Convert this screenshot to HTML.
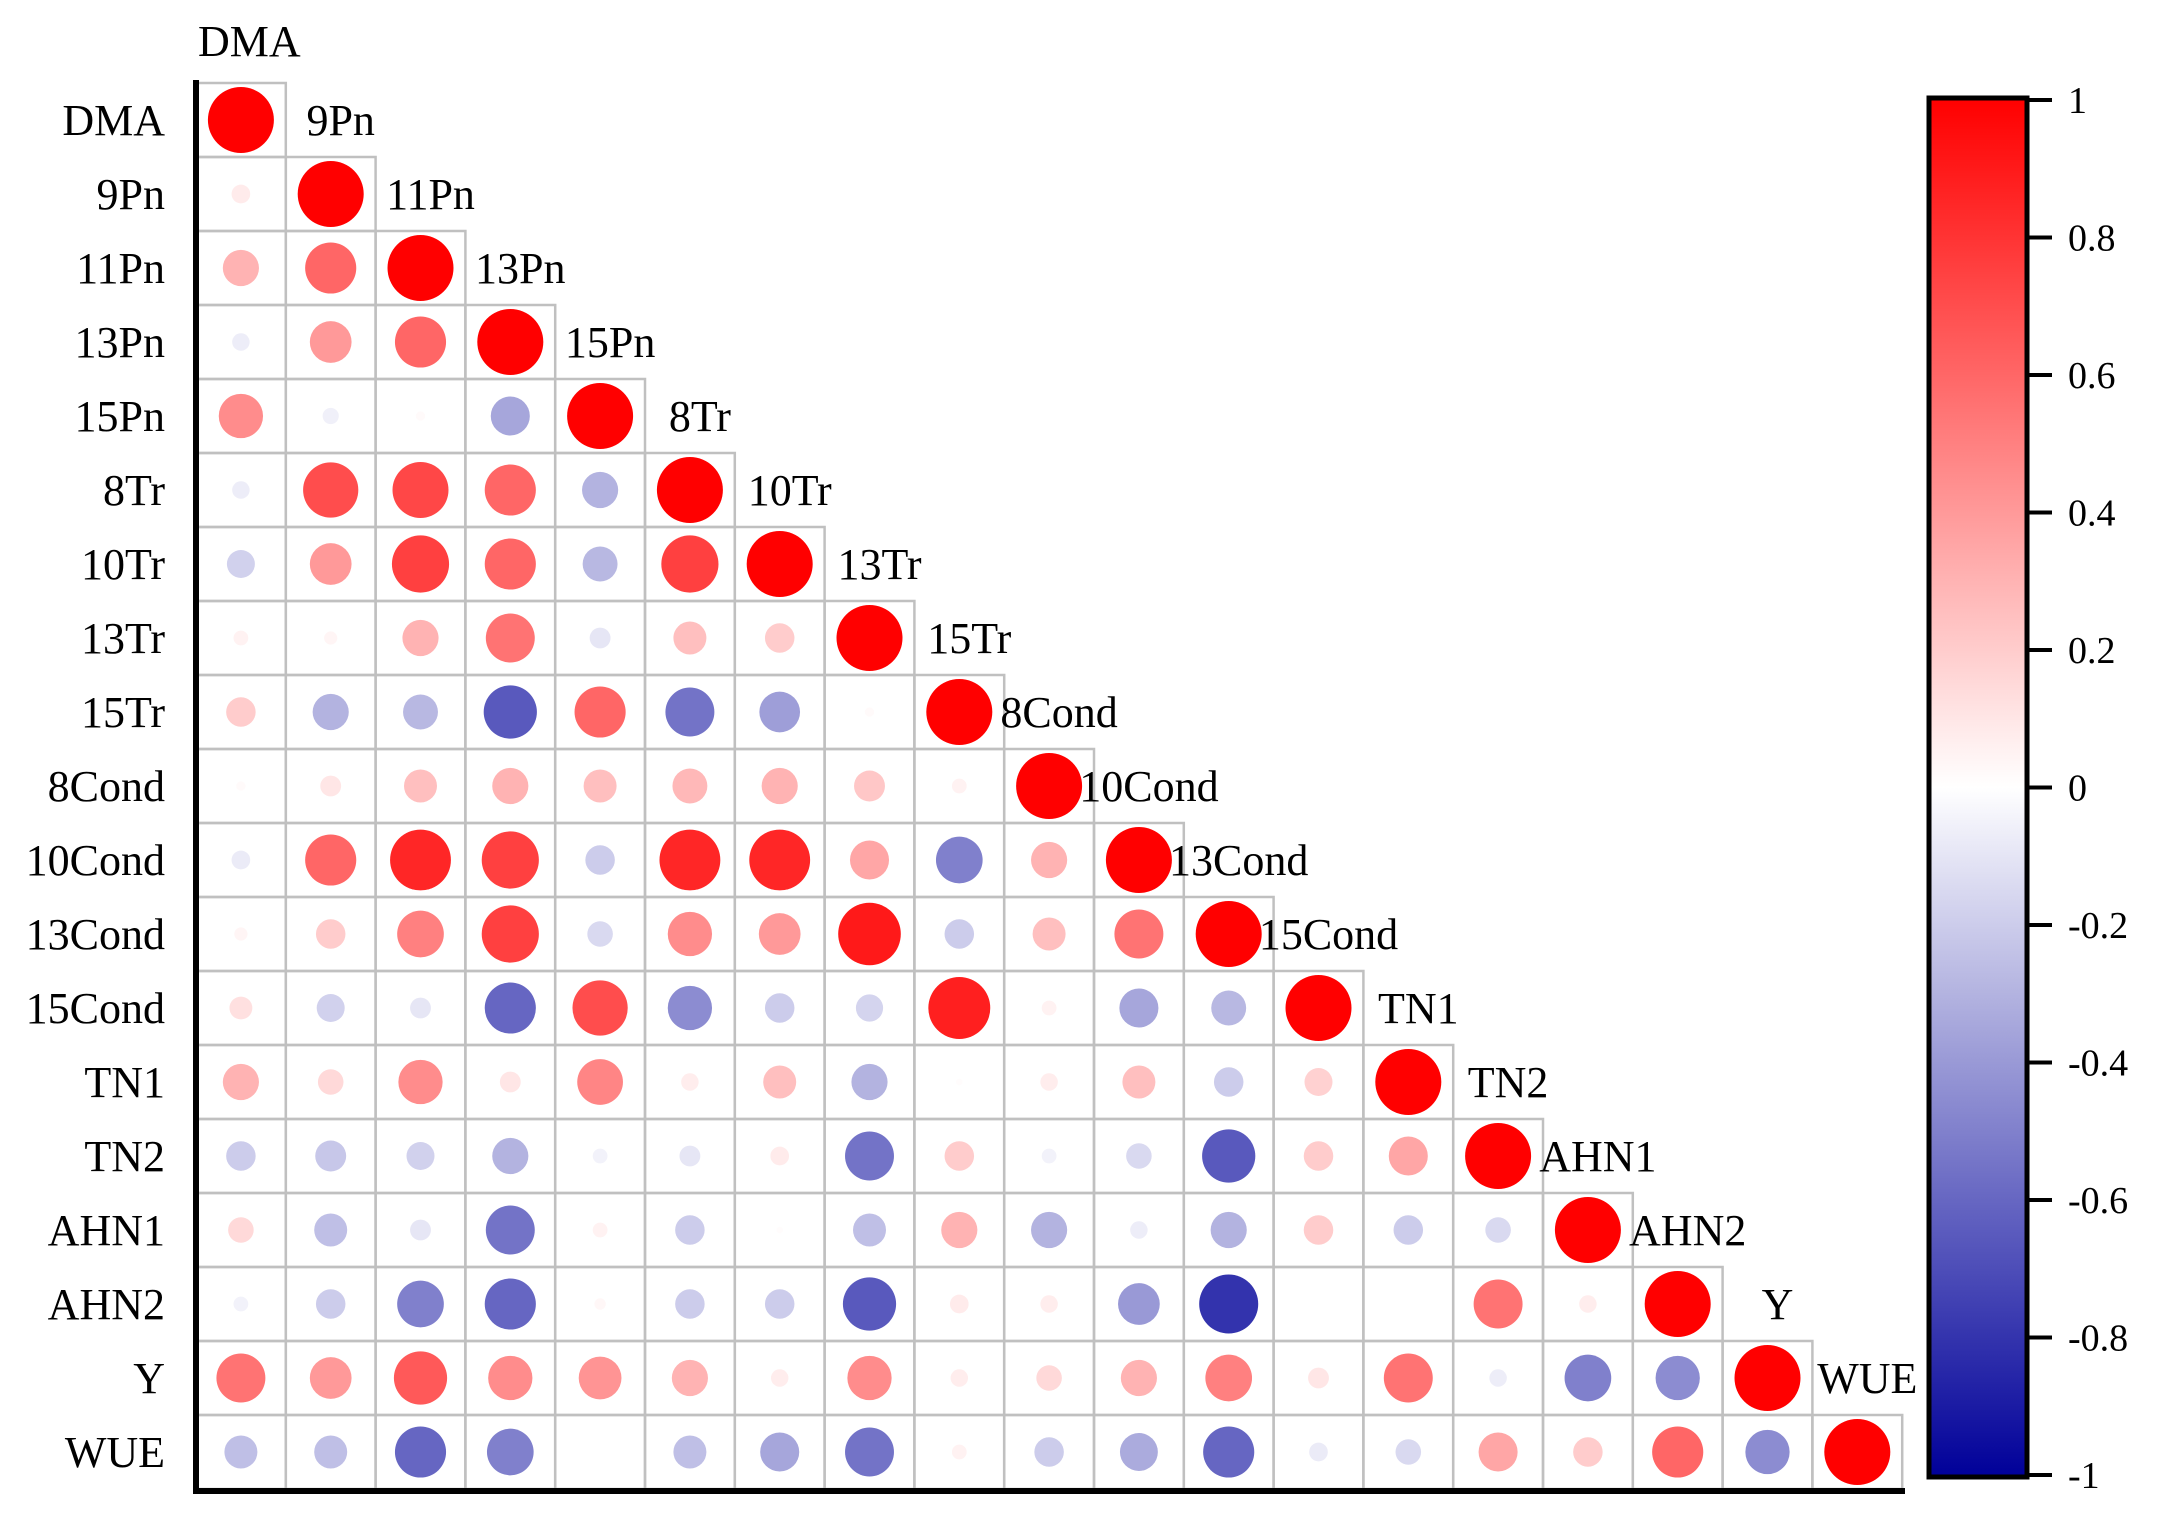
<!DOCTYPE html>
<html><head><meta charset="utf-8"><style>
html,body{margin:0;padding:0;background:#fff;}
svg{display:block;font-family:"Liberation Serif",serif;}
</style></head><body>
<svg id="chart" width="2166" height="1528" viewBox="0 0 2166 1528" xmlns="http://www.w3.org/2000/svg"></svg>
<script>
const variables = ["DMA","9Pn","11Pn","13Pn","15Pn","8Tr","10Tr","13Tr","15Tr","8Cond","10Cond","13Cond","15Cond","TN1","TN2","AHN1","AHN2","Y","WUE"];
const corrRows = [
 [],
 [0.08],
 [0.3,0.6],
 [-0.07,0.4,0.6],
 [0.45,-0.06,0.02,-0.35],
 [-0.07,0.7,0.72,0.6,-0.3],
 [-0.18,0.4,0.75,0.6,-0.28,0.75],
 [0.05,0.04,0.3,0.55,-0.1,0.25,0.2],
 [0.2,-0.3,-0.28,-0.65,0.6,-0.55,-0.38,0.02],
 [0.02,0.1,0.25,0.3,0.25,0.28,0.3,0.22,0.05],
 [-0.08,0.6,0.85,0.75,-0.2,0.85,0.85,0.35,-0.5,0.3],
 [0.04,0.2,0.5,0.75,-0.15,0.45,0.4,0.9,-0.2,0.25,0.55],
 [0.12,-0.18,-0.1,-0.6,0.7,-0.45,-0.2,-0.17,0.88,0.05,-0.35,-0.28],
 [0.3,0.15,0.45,0.1,0.48,0.07,0.25,-0.3,0.01,0.07,0.25,-0.2,0.18],
 [-0.2,-0.22,-0.18,-0.3,-0.05,-0.1,0.08,-0.55,0.2,-0.05,-0.15,-0.65,0.2,0.35],
 [0.15,-0.25,-0.1,-0.55,0.05,-0.2,0.01,-0.25,0.3,-0.3,-0.07,-0.3,0.2,-0.2,-0.15],
 [-0.05,-0.2,-0.5,-0.6,0.03,-0.2,-0.2,-0.65,0.08,0.07,-0.4,-0.8,0.0,0.0,0.55,0.07],
 [0.55,0.4,0.65,0.45,0.42,0.3,0.07,0.45,0.07,0.15,0.3,0.5,0.1,0.55,-0.07,-0.5,-0.45],
 [-0.25,-0.25,-0.6,-0.5,0.0,-0.25,-0.35,-0.55,0.05,-0.2,-0.33,-0.6,-0.08,-0.15,0.35,0.2,0.6,-0.45]
];
const colorbarTicks = [1,0.8,0.6,0.4,0.2,0,-0.2,-0.4,-0.6,-0.8,-1];
const tickText = ["1","0.8","0.6","0.4","0.2","0","-0.2","-0.4","-0.6","-0.8","-1"];

const NS="http://www.w3.org/2000/svg";
const svg=document.getElementById('chart');
const GX=196, GY=83, CW=89.8, CH=74, RMAX=33;
const xCell=j=>GX+j*CW, yCell=i=>GY+i*CH;
const CBT=100, CBB=1475;
const yBar=v=>CBB-(v+1)/2*(CBB-CBT);
function color(v){
  if(v>=0){const t=1-v;return `rgb(255,${Math.round(255*t)},${Math.round(255*t)})`;}
  const t=1+v;return `rgb(${Math.round(255*t)},${Math.round(255*t)},${Math.round(153+102*t)})`;
}
function el(tag,attrs,parent){const e=document.createElementNS(NS,tag);for(const k in attrs)e.setAttribute(k,attrs[k]);(parent||svg).appendChild(e);return e;}

const n=variables.length;
const grid=el('g',{});


for(let i=0;i<n;i++){
  for(let j=0;j<=i;j++){
    const c=el('rect',{x:xCell(j),y:yCell(i),width:CW,height:CH,fill:'none',stroke:'#c0c0c0','stroke-width':2.5},grid);
    
    
  }
}
for(let i=0;i<n;i++){
  for(let j=0;j<=i;j++){
    const v=(j===i)?1:corrRows[i][j];
    const c=el('circle',{cx:xCell(j)+CW/2,cy:yCell(i)+CH/2,r:RMAX*Math.sqrt(Math.abs(v)),fill:color(v)});
    
    
  }
  const t=el('text',{x:165,y:yCell(i)+CH/2+15,'font-size':44,'text-anchor':'end'});
  t.textContent=variables[i];
  
  
  if(i<n-1){
    const d=el('text',{x:xCell(i+1)+CW/2+10,y:yCell(i)+CH/2+15,'font-size':44,'text-anchor':'middle'});
    d.textContent=variables[i+1];
    
    
  }
}
const topLabel=el('text',{x:198,y:56,'font-size':44});
topLabel.textContent=variables[0];


const ax=el('line',{x1:196,y1:80,x2:196,y2:1494,stroke:'#000','stroke-width':6});


const bx=el('line',{x1:193,y1:1491,x2:1905,y2:1491,stroke:'#000','stroke-width':6});



const defs=el('defs',{});
const lg=el('linearGradient',{id:'cg',x1:0,y1:0,x2:0,y2:1},defs);
for(let k=0;k<=20;k++){const v=1-k/10;el('stop',{offset:(k/20),'stop-color':color(v)},lg);}
const cb=el('rect',{x:1929,y:98,width:98,height:1379,fill:'url(#cg)',stroke:'#000','stroke-width':5});


colorbarTicks.forEach((v,k)=>{
  const tk=el('line',{x1:2027,y1:yBar(v),x2:2052,y2:yBar(v),stroke:'#000','stroke-width':4});
  
  
  const tl=el('text',{x:2068,y:yBar(v)+13,'font-size':38});
  tl.textContent=tickText[k];
  
  
});
</script>
</body></html>
